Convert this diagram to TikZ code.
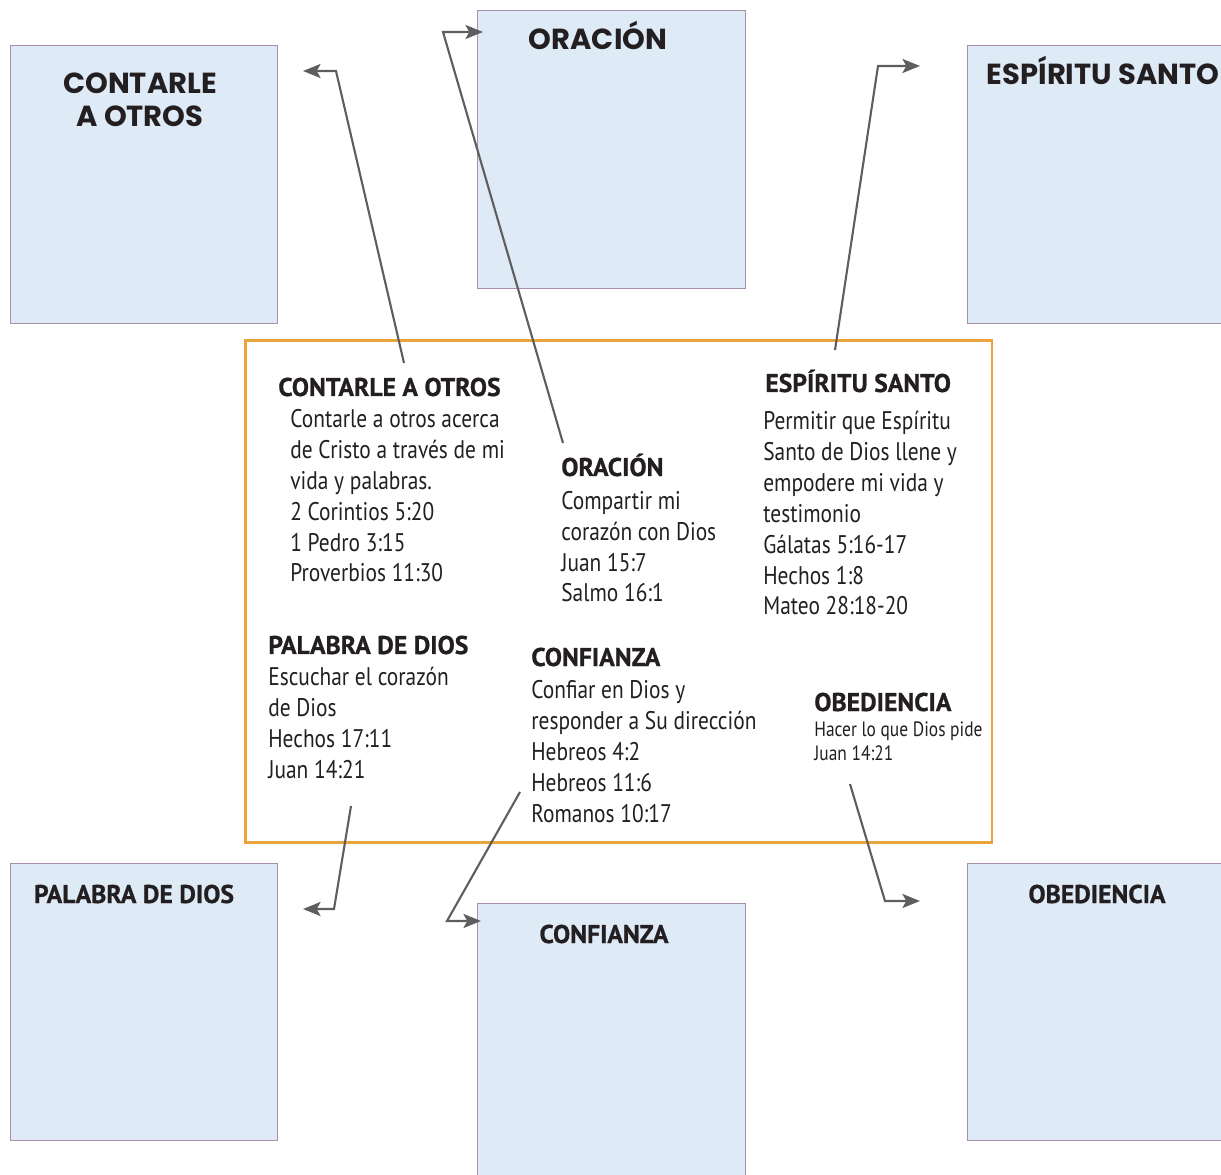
\documentclass[tikz,border=0pt]{standalone}
\usepackage{fontspec}
\setmainfont{PT Sans}
\newfontfamily\condfont{PT Sans}[FakeStretch=0.84]
\newfontfamily\condhead{PT Sans}[FakeBold=0.8]
\newfontfamily\titlefont{Poppins}
\usetikzlibrary{arrows.meta}
\definecolor{boxblue}{HTML}{DFEAF7}
\definecolor{boxline}{HTML}{A98FAA}
\definecolor{frameorange}{HTML}{E9A43C}
\definecolor{linkgray}{HTML}{5E5E5E}
\definecolor{ink}{HTML}{231F20}
\tikzset{
  box/.style = {draw=boxline, fill=boxblue, line width=0.7pt, anchor=north west,
    inner sep=0pt},
  marco/.style = {draw=frameorange, line width=1.5pt, anchor=north west,
    inner sep=0pt},
  boxtitle/.style = {align=center, inner sep=0pt, anchor=base, text=ink,
    font=\titlefont\bfseries\fontsize{16.5}{19.3}\selectfont},% titulo grande
  boxtitlec/.style = {inner sep=0pt, anchor=base, text=ink,
    font=\condhead\bfseries\fontsize{14.6}{17.6}\selectfont},% titulo angosto
  head/.style = {anchor=base west, inner sep=0pt, text=ink,
    font=\condhead\bfseries\fontsize{14.6}{17.6}\selectfont},
  % base = linea de abajo del texto
  body/.style = {anchor=base west, align=left, inner sep=0pt, text=ink,
    font=\condfont\fontsize{14.5}{17.6}\selectfont},
  small/.style = {body, font=\condfont\fontsize{11.8}{13.6}\selectfont},
  link/.style = {->, draw=linkgray, line width=1.2pt}
}

\begin{document}
\begin{tikzpicture}[x=0.02cm, y=-0.02cm, >={Stealth[length=10pt,width=8pt,inset=2.2pt]}]
  \useasboundingbox (0,0) rectangle (1221,1175);
  % cajas de afuera
  \node [box, minimum width=5.34cm, minimum height=5.56cm] (bContarle) at (10,45) {};
  \node [box, minimum width=5.36cm, minimum height=5.56cm] (bOracion) at (477,10) {};
  \node [box, minimum width=6cm, minimum height=5.56cm] (bEspiritu) at (967,45) {};
  \node [box, minimum width=5.34cm, minimum height=5.54cm] (bPalabra) at (10,863) {};
  \node [box, minimum width=5.36cm, minimum height=6cm] (bConfianza) at (477,903) {};
  \node [box, minimum width=6cm, minimum height=5.54cm] (bObediencia) at (967,863) {};
  \node [boxtitle] (tbContarle) at (140,127) {CONTARLE\\A OTROS};
  \node [boxtitle] (tbOracion) at (598,50) {ORACIÓN};
  \node [boxtitle] (tbEspiritu) at (1103,85) {ESPÍRITU SANTO};
  \node [boxtitlec] (tbPalabra) at (134,903) {PALABRA DE DIOS};
  \node [boxtitlec] (tbConfianza) at (604,943) {CONFIANZA};
  \node [boxtitlec] (tbObediencia) at (1097,903) {OBEDIENCIA};
  % marco del centro
  \node [marco, minimum width=14.94cm, minimum height=10.04cm] (marco) at (244,339) {};
  \node [head] (hContarle) at (278,396) {CONTARLE A OTROS};
  \node [body] (tContarle) at (290,582) {Contarle a otros acerca\\de Cristo a través de mi\\vida y palabras.\\2 Corintios 5:20\\1 Pedro 3:15\\Proverbios 11:30};
  \node [head] (hOracion) at (561,476) {ORACIÓN};
  \node [body] (tOracion) at (561,602) {Compartir mi\\corazón con Dios\\Juan 15:7\\Salmo 16:1};
  \node [head] (hEspiritu) at (765,392) {ESPÍRITU SANTO};
  \node [body] (tEspiritu) at (763,615) {Permitir que Espíritu\\Santo de Dios llene y\\empodere mi vida y\\testimonio\\Gálatas 5:16-17\\Hechos 1:8\\Mateo 28:18-20};
  \node [head] (hPalabra) at (268,654) {PALABRA DE DIOS};
  \node [body] (tPalabra) at (268,778) {Escuchar el corazón\\de Dios\\Hechos 17:11\\Juan 14:21};
  \node [head] (hConfianza) at (531,666) {CONFIANZA};
  \node [body] (tConfianza) at (531,822) {Confiar en Dios y\\responder a Su dirección\\Hebreos 4:2\\Hebreos 11:6\\Romanos 10:17};
  \node [head] (hObediencia) at (814,711) {OBEDIENCIA};
  \node [small] (tObediencia) at (814,760) {Hacer lo que Dios pide\\Juan 14:21};
  % flechas
  \coordinate (sContarle) at (404,363);
  \coordinate (kContarle) at (336,71);
  \coordinate (eContarle) at (303,71);
  \coordinate (sOracion) at (563,443);
  \coordinate (kOracion) at (443,32);
  \coordinate (eOracion) at (483,32);
  \coordinate (sEspiritu) at (835,350);
  \coordinate (kEspiritu) at (878,66);
  \coordinate (eEspiritu) at (920,66);
  \coordinate (sPalabra) at (351,806);
  \coordinate (kPalabra) at (334,909);
  \coordinate (ePalabra) at (303,909);
  \coordinate (sConfianza) at (520,792);
  \coordinate (kConfianza) at (447,921);
  \coordinate (eConfianza) at (481,921);
  \coordinate (sObediencia) at (850,784);
  \coordinate (kObediencia) at (885,901);
  \coordinate (eObediencia) at (920,901);
  \draw [link] (sContarle) -- (kContarle) -- (eContarle);
  \draw [link] (sOracion) -- (kOracion) -- (eOracion);
  \draw [link] (sEspiritu) -- (kEspiritu) -- (eEspiritu);
  \draw [link] (sPalabra) -- (kPalabra) -- (ePalabra);
  \draw [link] (sConfianza) -- (kConfianza) -- (eConfianza);
  \draw [link] (sObediencia) -- (kObediencia) -- (eObediencia);
\end{tikzpicture}
\end{document}
